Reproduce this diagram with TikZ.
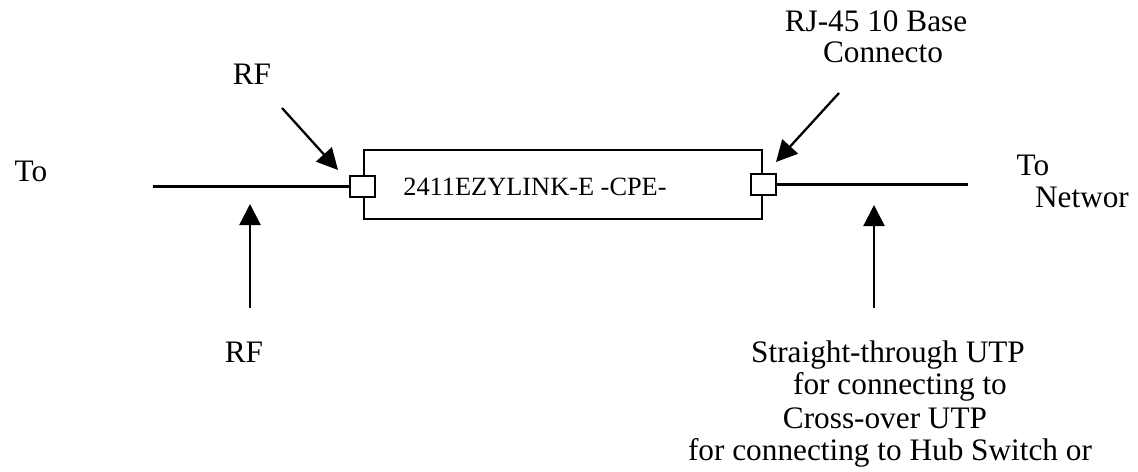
\documentclass[tikz,border=0pt]{standalone}
\usepackage{fontspec}
\setmainfont{Liberation Serif}
\usetikzlibrary{arrows, arrows.meta}

\begin{document}
\begin{tikzpicture}[x=0.02cm,y=-0.02cm,
  lbl/.style={anchor=base,inner sep=0pt,font=\fontsize{17.8}{20}\selectfont},
  wire/.style={line width=1.3pt},
  port/.style={draw,line width=1.3pt,fill=white,minimum width=0.5cm,minimum height=0.42cm,inner sep=0pt},
  pointer/.style={line width=1.3pt,-{Triangle[length=12pt,width=12pt]}}]
\useasboundingbox (0,0) rectangle (1138,472);

% the unit
\node[draw,line width=1.3pt,minimum width=7.96cm,minimum height=1.38cm,inner sep=0pt] (cpe) at (563,184.5) {};
\node[anchor=base,inner sep=0pt,font=\fontsize{15}{17}\selectfont] (cpename) at (535,196) {2411EZYLINK-E -CPE-};

\node[port] (rfport) at (362.5,186.5) {};
\node[port] (lanport) at (763.5,184.5) {};

% cables
\coordinate (rfend) at (153,186.5);
\coordinate (lanend) at (968,184.5);
\draw[wire] (rfend) -- (rfport.west);
\draw[wire] (lanport.east) -- (lanend);

% pointers
\coordinate (rfptail) at (282,108);
\coordinate (rfptip) at (338,170);
\coordinate (rjtail) at (839,93);
\coordinate (rjtip) at (776,162);
\coordinate (rfctail) at (250,308);
\coordinate (rfctip) at (250,204);
\coordinate (utptail) at (874,308);
\coordinate (utptip) at (874,205);

\draw[pointer] (rfptail) -- (rfptip);
\draw[pointer] (rjtail) -- (rjtip);
\draw[pointer] (rfctail) -- (rfctip);
\draw[pointer] (utptail) -- (utptip);

% labels
\node[lbl] (toradio) at (31,182) {To};
\node[lbl] (rftop) at (252,85) {RF};
\node[lbl] (rfbottom) at (244,362) {RF};
\node[lbl] (tonet) at (1033,176) {To};
\node[lbl] (networ) at (1082,208) {Networ};

\node[lbl] (rjline1) at (876,32) {RJ-45 10 Base};
\node[lbl] (rjline2) at (883,63) {Connecto};

\node[lbl] (utp1) at (888,362) {Straight-through UTP};
\node[lbl] (utp2) at (900,395) {for connecting to};
\node[lbl] (utp3) at (885,428) {Cross-over UTP};
\node[lbl] (utp4) at (890,460) {for connecting to Hub Switch or};
\end{tikzpicture}
\end{document}
